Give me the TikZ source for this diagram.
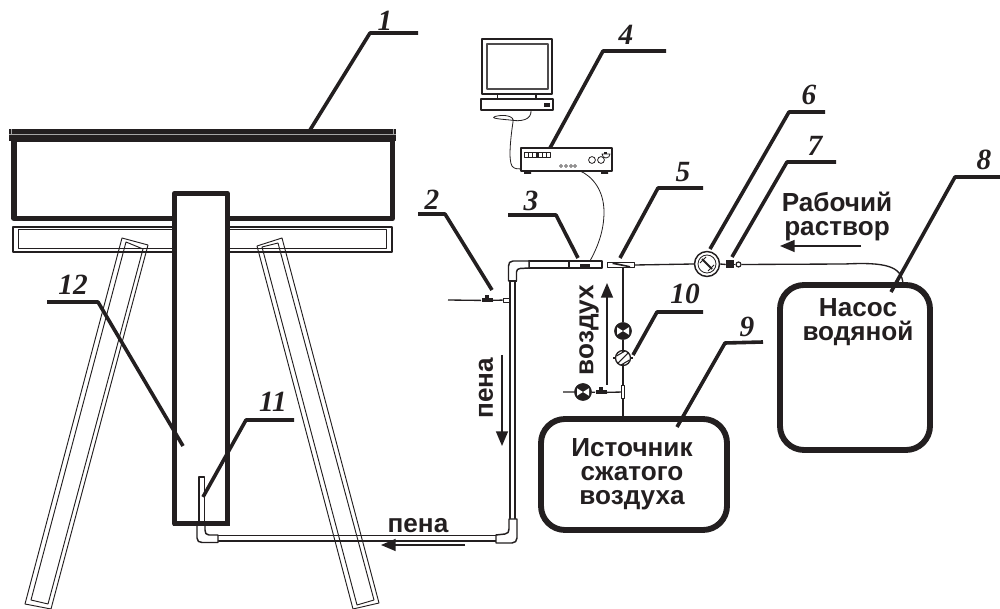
\documentclass[tikz,border=0pt]{standalone}
\usepackage{fontspec}
\setmainfont{Liberation Sans}
\newfontfamily\numfont{Liberation Serif}
\usetikzlibrary{arrows.meta}
\definecolor{ink}{HTML}{231F20}
\tikzset{
  x=0.75pt,y=-0.75pt,
  every path/.style={line join=round},
  num/.style={font=\numfont\bfseries\itshape\fontsize{22}{22}\selectfont,text=ink,inner sep=0pt},
  lbl/.style={font=\bfseries\fontsize{19.6}{18}\selectfont,text=ink,inner sep=0pt,align=center},
  leader/.style={draw=ink,line width=2.7pt},
  thin/.style={draw=ink,line width=0.7pt},
  pipe/.style={draw=ink,line width=1.1pt},
  wire/.style={draw=ink,line width=1pt},
  flow/.style={draw=ink,line width=1.1pt,-{Triangle[length=11pt,width=9pt]}},
  crossv/.style={circle,fill=ink,draw=ink,minimum size=17*0.75pt,inner sep=0pt,line width=0.5pt},
  tank/.style={draw=ink,line width=4.4pt,rounded corners=18pt,fill=white,inner sep=0pt},
}
\newcommand{\crossvalve}[1]{\fill[white] (#1) -- ++(-6,-3.8) -- ++(0,7.6) -- cycle;
  \fill[white] (#1) -- ++(6,-3.8) -- ++(0,7.6) -- cycle;}
\begin{document}
\begin{tikzpicture}
\useasboundingbox (0,0) rectangle (1000,609);
\fill[white] (0,0) rectangle (1000,609);

% lower strip
\draw[thin,line width=0.8pt] (13,227) rectangle (392,252);
\draw[thin] (18,229.5) rectangle (386,248);

% legs
\draw[thin] (122,238) -- (148,245) -- (51,609) -- (25,604) -- cycle;
\draw[thin] (126,242) -- (143,249) -- (48,604) -- (31,600) -- cycle;
\draw[thin] (257,246) -- (282,238) -- (379,603) -- (353,609) -- cycle;
\draw[thin] (262,247) -- (278,243) -- (374,600) -- (357,605) -- cycle;

% upper box and bar
\node[draw=ink,line width=4pt,fill=white,minimum width=378.5*0.75pt,minimum height=79*0.75pt,inner sep=0pt] (frame) at (203.2,179) {};
\fill[ink] (9,129) rectangle (396,141);
\draw[gray!70,line width=0.6pt] (9,134.5) -- (396,134.5);
\draw[gray!70,line width=0.5pt] (11.5,129) -- (11.5,135) (393.5,129) -- (393.5,135);

% rod
\node[draw=ink,line width=3.9pt,fill=white,minimum width=53*0.75pt,minimum height=330*0.75pt,inner sep=0pt] (rod) at (201,358.5) {};

% monitor
\draw[draw=ink,line width=1pt,fill=white] (482,39) rectangle (552,94);
\draw[draw=ink!80,line width=0.9pt] (487,44) rectangle (548,89);
\draw[draw=ink,line width=0.8pt] (497.5,94) rectangle (536,99);
\node[draw=ink,line width=1pt,minimum width=72*0.75pt,minimum height=11*0.75pt,inner sep=0pt] (pc) at (517,104.5) {};
\fill[ink] (544,103) rectangle (550,107);

% instrument
\fill[ink] (524,170) rectangle (531,174) (601,170) rectangle (608,174);
\node[draw=ink,line width=1pt,fill=white,minimum width=91*0.75pt,minimum height=23*0.75pt,inner sep=0pt] (meter) at (566.5,159.5) {};
\draw[draw=ink,line width=0.7pt] (524,152.5) rectangle (550,157.5);
\fill[ink] (536,152.5) rectangle (538.5,157.5);
\foreach \xx in {528,532,542,546}{\draw[ink,line width=0.6pt] (\xx,152.5) -- (\xx,157.5);}
\foreach \xx in {561,566,571,575}{\draw[ink,line width=0.5pt] (\xx,166) circle (1.5);}
\draw[ink,line width=0.6pt] (592,160) circle (3.4) (601,160) circle (3.4);
\draw[ink,line width=0.6pt] (602,154) arc (180:0:4) -- cycle;
\fill[ink] (604,152) rectangle (607,154);

% cables
\draw[wire,line width=0.6pt] (531,110) .. controls (532,120) and (521,122) .. (510,120)
  .. controls (498,119) and (490,118) .. (495,116.5) .. controls (504,114) and (515,116) .. (513,122)
  .. controls (511,135) and (508,160) .. (512,166) .. controls (514,169) and (518,169) .. (521,169);
\draw[wire,line width=0.6pt] (580,171) .. controls (592,176) and (604,190) .. (604,212) .. controls (604,232) and (597,248) .. (590,261);

% pipe 3 and elbows
\draw[pipe,fill=white] (529,261) -- (529,268) -- (602,268) -- (602,261) -- cycle;
\draw[pipe] (569,261) -- (569,268);
\fill[ink] (580,264.5) rectangle (590,268);
\draw[pipe,fill=white] (529,261) -- (513,261) .. controls (510,261) and (508.5,263) .. (508.5,266) -- (508.5,281) -- (516.5,281)
  -- (516.5,272) .. controls (516.5,270) and (518,268.5) .. (520,268.5) -- (529,268) -- cycle;
\draw[pipe] (510,281) -- (510,519) (515,281) -- (515,519);
\draw[pipe] (508.5,281) -- (516.5,281);
\draw[pipe,fill=white] (509,519) -- (517,519) -- (517,538) .. controls (517,541) and (515,543) .. (512,543) -- (496,543) -- (496,535) -- (505,534)
  .. controls (508,533.5) and (509,532) .. (509,529) -- cycle;
\draw[draw=ink,line width=0.9pt] (218,535.5) -- (496,535.5);
\draw[draw=ink,line width=1.4pt] (218,541) -- (496,541);
\draw[pipe,fill=white] (197,526) -- (197,538) .. controls (197,541) and (199,542.5) .. (202,542.5) -- (218,542.5) -- (218,535) -- (209,535)
  .. controls (206,535) and (205,533) .. (205,530) -- (205,526);
\draw[pipe,fill=white] (199,477) rectangle (204.5,522);
\draw[draw=ink,line width=3.9pt] (172.5,523.5) -- (229.5,523.5);

% air feed into foam pipe
\node[draw=ink,line width=0.7pt,minimum width=6*0.75pt,minimum height=4*0.75pt,inner sep=0pt] (tee) at (506,300) {};
\coordinate (airin) at (448,300);
\node[fill=ink,minimum width=11*0.75pt,minimum height=4*0.75pt,inner sep=0pt] (valve2) at (487,300.5) {};
\fill[ink] (485,295.5) rectangle (489,299);
\draw[wire] (airin) -- (valve2) -- (tee);

% mixer 5, valves
\node[draw=ink,line width=0.6pt,fill=white,minimum width=27*0.75pt,minimum height=4.5*0.75pt,inner sep=0pt] (mixer) at (621,265) {};
\fill[ink] (614,262.5) -- (630,266) -- (630,267.5) -- (612,264) -- cycle;
\node[draw=ink,line width=1.1pt,circle,fill=white,minimum size=25*0.75pt,inner sep=0pt] (rota) at (707,264) {};
\node[draw=ink,line width=0.6pt,circle,minimum size=18*0.75pt,inner sep=0pt] at (707,264) {};
\draw[ink,line width=1.4pt] (702,259) -- (712,269);
\draw[ink,line width=0.7pt] (700,263) -- (706,257) (708,271) -- (714,265);
\node[fill=ink,minimum width=8*0.75pt,minimum height=8*0.75pt,inner sep=0pt] (v7) at (730,264.5) {};
\node[draw=ink,circle,line width=0.9pt,fill=white,minimum size=5*0.75pt,inner sep=0pt] (v7b) at (738.5,264.5) {};
\draw[ink,line width=1.4pt] (v7) -- (v7b);

% tanks
\node[tank,minimum width=150*0.75pt,minimum height=165*0.75pt] (pump) at (855,367.5) {};
\node[tank,minimum width=186*0.75pt,minimum height=111*0.75pt] (source) at (634,474.5) {};

\draw[wire] (mixer.east) -- (rota.west);
\draw[wire] (rota.east) -- (v7.west);
\draw[wire] (v7b.east) -- (845,264) .. controls (885,262) and (902,266) .. (903,284);

% air line
\node[crossv] (x1) at (623,331) {};
\node[draw=ink,line width=1pt,circle,fill=white,minimum size=15*0.75pt,inner sep=0pt] (dial) at (623,358) {};
\draw[ink,line width=0.8pt] (618,363) -- (628,353) (616.5,356) -- (625,351) (621,365) -- (629.5,360);
\foreach \a in {0,90,180,270}{\draw[ink,line width=1.2pt] (dial.\a) -- ++(\a:2);}
\node[draw=ink,line width=0.8pt,fill=white,minimum width=3*0.75pt,minimum height=13*0.75pt,inner sep=0pt] (tee2) at (623,392) {};
\node[crossv] (x2) at (583,392) {};
\node[fill=ink,minimum width=11*0.75pt,minimum height=4*0.75pt,inner sep=0pt] (v2) at (601,392.5) {};
\fill[ink] (599,387) rectangle (603,391);
\coordinate (ventl) at (563,392);
\draw[wire] (623,267) -- (x1);
\draw[wire] (x1) -- (dial);
\draw[wire] (dial) -- (tee2);
\draw[wire] (tee2) -- (source.north -| tee2);
\draw[wire] (ventl) -- (x2) -- (v2) -- (tee2);
\crossvalve{623,331}
\crossvalve{583,392}

% flow arrows
\coordinate (a1s) at (607,385); \coordinate (a1e) at (607,283);
\draw[flow] (a1s) -- (a1e);
\coordinate (a2s) at (502,355); \coordinate (a2e) at (502,446);
\draw[flow] (a2s) -- (a2e);
\coordinate (a3s) at (465,545); \coordinate (a3e) at (381,545);
\draw[flow] (a3s) -- (a3e);
\coordinate (a4s) at (861,246); \coordinate (a4e) at (780,246);
\draw[flow] (a4s) -- (a4e);

% texts
\node[lbl] (t1) at (837,216) {Рабочий\\раствор};
\node[lbl] (t2) at (858,322) {Насос\\водяной};
\node[lbl] (t3) at (632,474) {Источник\\сжатого\\воздуха};
\node[lbl,rotate=90] (t4) at (589,330) {воздух};
\node[lbl,rotate=90] (t5) at (486,388) {пена};
\node[lbl] (t6) at (418,526) {пена};

% leaders
\draw[leader] (310,130) -- (370,33) -- (418,33);
\draw[leader] (492,290) -- (445,214) -- (418,214);
\draw[leader] (578,258) -- (556,215) -- (508,215);
\draw[leader] (550,148) -- (603,51) -- (666,51);
\draw[leader] (620,258) -- (658,188) -- (703,188);
\draw[leader] (710,249) -- (789,112) -- (825,112);
\draw[leader] (732,257) -- (787,162) -- (836,162);
\draw[leader] (891,292) -- (955,177) -- (1000,177);
\draw[leader] (677,427) -- (725,343) -- (763,342);
\draw[leader] (633,355) -- (657,312) -- (703,312);
\draw[leader] (203,497) -- (246,420) -- (294,420);
\draw[leader] (183,446) -- (98,302) -- (47,302);

\node[num] (n1) at (385,21) {1};
\node[num] (n2) at (432,200) {2};
\node[num] (n3) at (531,201) {3};
\node[num] (n4) at (626,35) {4};
\node[num] (n5) at (683,172) {5};
\node[num] (n6) at (809,95) {6};
\node[num] (n7) at (815,146) {7};
\node[num] (n8) at (984,160) {8};
\node[num] (n9) at (747,327) {9};
\node[num] (n10) at (685,294) {10};
\node[num] (n11) at (273,402) {11};
\node[num] (n12) at (73,285) {12};
\end{tikzpicture}
\end{document}
